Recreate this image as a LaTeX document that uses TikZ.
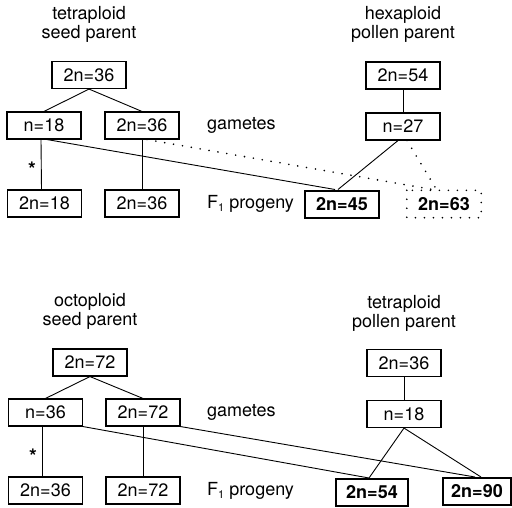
\documentclass[tikz,border=0pt]{standalone}
\usepackage{fontspec}
\setmainfont{TeX Gyre Heros}
\begin{document}
\begin{tikzpicture}[x=1pt,y=-1pt,
  every node/.style={font=\fontsize{18}{19}\selectfont},
  box/.style={draw,line width=1.1pt,minimum width=74pt,minimum height=27pt,inner sep=0pt},
  boldbox/.style={box,line width=2pt,font=\fontsize{18}{19}\selectfont\bfseries},
  dotbox/.style={minimum width=74pt,minimum height=27pt,inner sep=0pt,font=\fontsize{18}{19}\selectfont\bfseries},
  title/.style={align=center,inner sep=0pt},
  lab/.style={inner sep=0pt,anchor=west},
  star/.style={inner sep=0pt,font=\fontsize{20}{20}\selectfont\bfseries},
  conn/.style={line width=0.9pt},
  dots/.style={line width=1.8pt,line cap=round,dash pattern=on 0pt off 9pt}]
\useasboundingbox (0,0) rectangle (512,507);
% ---------- top ----------
\node[title] (t1) at (89,24) {tetraploid\\seed parent};
\node[title] (t2) at (403,24) {hexaploid\\pollen parent};
\node[box] (A) at (89,75) {2n=36};
\node[box] (B) at (44,125.5) {n=18};
\node[box] (C) at (142,125.5) {2n=36};
\node[box] (D) at (44.5,203.5) {2n=18};
\node[box] (E) at (142,203.5) {2n=36};
\node[lab] (g1) at (207,125.5) {gametes};
\node[lab] (f1) at (207,204) {F\raisebox{-3pt}{\fontsize{11}{11}\selectfont 1} progeny};
\node[star] (s1) at (32,169) {*};
\node[box] (P) at (403,75.5) {2n=54};
\node[box] (Q) at (403,126.5) {n=27};
\node[boldbox] (R) at (342,204) {2n=45};
\node[dotbox] (S) at (444,204) {2n=63};
\draw[dots] (S.north west) rectangle (S.south east);
\draw[conn] (A.south) -- (B.north);
\draw[conn] (A.south) -- (C.north);
\draw[conn] ([xshift=-3pt]B.south) -- ([xshift=-3pt]D.north);
\draw[conn] (C.south) -- (E.north);
\draw[conn] ([xshift=3pt]B.south) -- ([xshift=-7pt]R.north);
\draw[conn] (P.south) -- (Q.north);
\draw[conn] ([xshift=-5pt]Q.south) -- ([xshift=-4pt]R.north);
\draw[dots] ([xshift=5pt]C.south) -- ([xshift=-7pt]S.north);
\draw[dots] ([xshift=4pt]Q.south) -- ([xshift=-7pt]S.north);
% ---------- bottom ----------
\node[title] (t3) at (90,311.5) {octoploid\\seed parent};
\node[title] (t4) at (404,313) {tetraploid\\pollen parent};
\node[box] (A2) at (90,362.5) {2n=72};
\node[box] (B2) at (45.5,412.5) {n=36};
\node[box] (C2) at (143,412.5) {2n=72};
\node[box] (D2) at (45.5,490.5) {2n=36};
\node[box] (E2) at (143,490.5) {2n=72};
\node[lab] (g2) at (207,412.5) {gametes};
\node[lab] (f2) at (207,491) {F\raisebox{-3pt}{\fontsize{11}{11}\selectfont 1} progeny};
\node[star] (s2) at (33,456) {*};
\node[box] (P2) at (404,363) {2n=36};
\node[box] (Q2) at (404,414) {n=18};
\node[boldbox,minimum width=72pt] (R2) at (372,492.5) {2n=54};
\node[boldbox,minimum width=68pt] (S2) at (477,491.5) {2n=90};
\draw[conn] (A2.south) -- (B2.north);
\draw[conn] (A2.south) -- (C2.north);
\draw[conn] ([xshift=-3pt]B2.south) -- ([xshift=-3pt]D2.north);
\draw[conn] (C2.south) -- (E2.north);
\draw[conn] (B2.south east) -- ([xshift=-3pt]R2.north);
\draw[conn] (C2.south east) -- ([xshift=-2pt]S2.north);
\draw[conn] (P2.south) -- (Q2.north);
\draw[conn] (Q2.south) -- ([xshift=-3pt]R2.north);
\draw[conn] (Q2.south) -- ([xshift=4pt]S2.north);
\end{tikzpicture}
\end{document}
